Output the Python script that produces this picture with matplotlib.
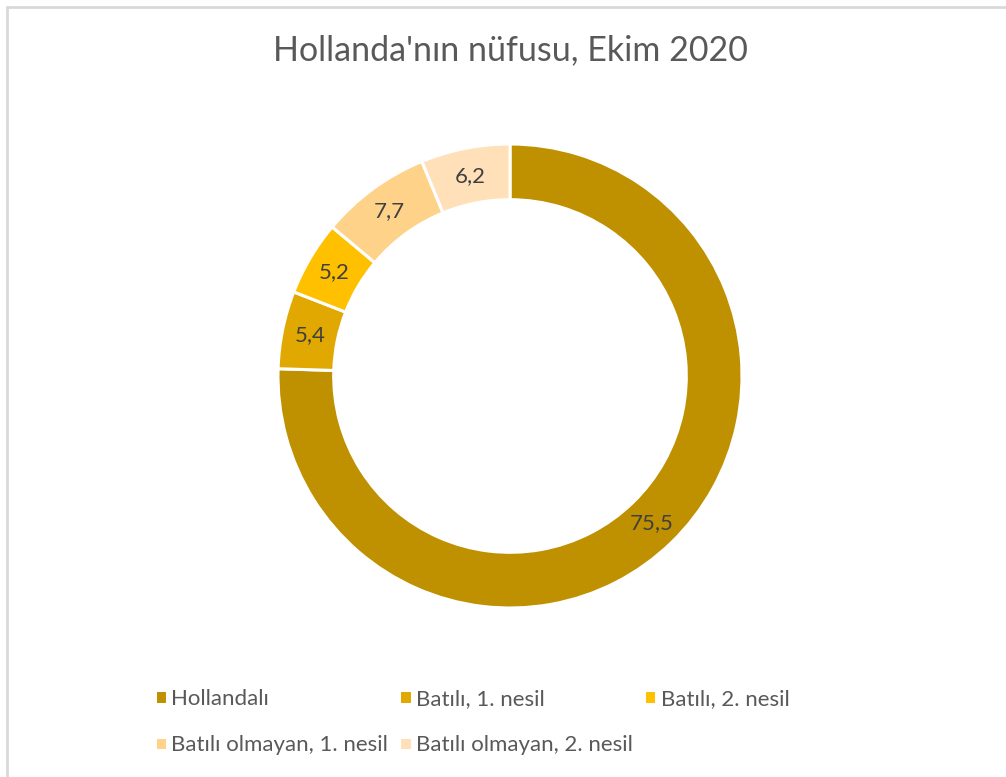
import matplotlib.pyplot as plt
import numpy as np
from matplotlib.patches import Rectangle

plt.rcParams['font.family'] = ['Lato', 'DejaVu Sans']

labels = ['Hollandalı', 'Batılı, 1. nesil', 'Batılı, 2. nesil',
          'Batılı olmayan, 1. nesil', 'Batılı olmayan, 2. nesil']
values = [75.5, 5.4, 5.2, 7.7, 6.2]
colors = ['#BF9000', '#E0A800', '#FFC000', '#FFD28A', '#FFE0B8']
title = "Hollanda'nın nüfusu, Ekim 2020"

W, H = 1006, 777
fig = plt.figure(figsize=(W / 100, H / 100), dpi=100)

# light frame of the chart area (right/bottom edge cut off in the reference)
fig.patches.append(Rectangle((7 / W, -0.01), 1.02, 1 - 7 / H + 0.01,
                             transform=fig.transFigure, fill=False,
                             edgecolor='#D9D9D9', linewidth=2))

cx, cy, r = 510, 376, 232
ax = fig.add_axes([(cx - r) / W, (H - cy - r) / H, 2 * r / W, 2 * r / H])
wedges, _ = ax.pie(values, colors=colors, startangle=90, counterclock=False,
                   radius=1, wedgeprops=dict(width=0.24, edgecolor='white',
                                             linewidth=2.2))
ax.set_xlim(-1, 1)
ax.set_ylim(-1, 1)
ax.set_aspect('equal')
ax.axis('off')

start = 90.0
for v in values:
    mid = np.deg2rad(start - v / 2 * 3.6)
    ax.text(0.88 * np.cos(mid), 0.88 * np.sin(mid), f'{v:.1f}'.replace('.', ','),
            ha='center', va='center', fontsize=16, color='#404040')
    start -= v * 3.6

fig.text(cx / W, 1 - 50 / H, title, ha='center', va='center',
         fontsize=24.5, color='#595959')

order = [0, 3, 1, 4, 2]
fig.legend([wedges[i] for i in order], [labels[i] for i in order],
           ncol=3, loc='center', bbox_to_anchor=(472 / W, 1 - 722 / H),
           frameon=False, fontsize=16, labelcolor='#595959',
           handlelength=0.55, handleheight=0.55, handletextpad=0.2,
           columnspacing=0.5, labelspacing=1.2)

fig.savefig('out.png', dpi=100)
